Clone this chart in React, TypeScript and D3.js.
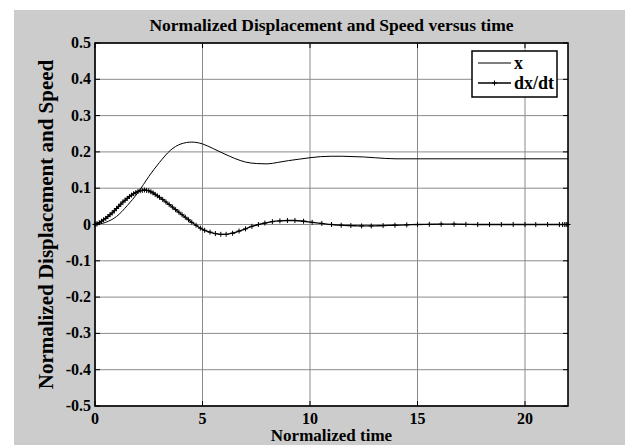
import React from "react";
import * as d3 from "d3";

// Displacement x
const xTimes = [0, 0.5, 1, 1.5, 2, 2.5, 3, 3.5, 4, 4.5, 5, 5.5, 6, 6.5, 7, 7.5, 8, 8.5, 9, 9.5, 10, 10.5, 11, 11.5, 12, 12.5, 13, 13.5, 14, 15, 16, 18, 20, 22];
const xValues = [0, 0.006, 0.022, 0.052, 0.088, 0.132, 0.171, 0.204, 0.222, 0.227, 0.222, 0.209, 0.195, 0.182, 0.172, 0.168, 0.167, 0.171, 0.176, 0.18, 0.184, 0.187, 0.188, 0.188, 0.187, 0.186, 0.184, 0.182, 0.181, 0.181, 0.181, 0.181, 0.181, 0.181];

// Speed dx/dt at solver steps (markers)
const vTimes = [0, 0.05, 0.1, 0.2, 0.3, 0.4, 0.5, 0.6, 0.7, 0.8, 0.9, 1.0, 1.1, 1.2, 1.3, 1.4, 1.5, 1.6, 1.7, 1.8, 1.9, 2.0, 2.1, 2.2, 2.3, 2.4, 2.5, 2.6, 2.7, 2.8, 2.9, 3.0, 3.15, 3.3, 3.45, 3.6, 3.75, 3.9, 4.05, 4.2, 4.35, 4.5, 4.7, 4.9, 5.1, 5.35, 5.6, 5.85, 6.1, 6.4, 6.7, 7.0, 7.3, 7.6, 7.9, 8.25, 8.6, 8.95, 9.3, 9.7, 10.1, 10.55, 11.0, 11.45, 11.9, 12.4, 12.85, 13.4, 13.95, 14.5, 15.0, 15.55, 16.1, 16.7, 17.25, 17.8, 18.35, 18.9, 19.45, 20.0, 20.5, 21.05, 21.6, 21.75, 21.85, 21.92, 22.0];
const vValues = [0, 0.001, 0.002, 0.005, 0.009, 0.013, 0.017, 0.022, 0.027, 0.032, 0.038, 0.044, 0.05, 0.056, 0.062, 0.067, 0.072, 0.077, 0.081, 0.085, 0.088, 0.091, 0.093, 0.094, 0.095, 0.094, 0.093, 0.09, 0.087, 0.083, 0.079, 0.075, 0.069, 0.062, 0.055, 0.048, 0.041, 0.034, 0.027, 0.02, 0.013, 0.006, -0.002, -0.01, -0.016, -0.021, -0.025, -0.027, -0.027, -0.024, -0.018, -0.012, -0.005, 0.0, 0.004, 0.008, 0.01, 0.011, 0.011, 0.009, 0.006, 0.003, 0.0, -0.002, -0.003, -0.004, -0.004, -0.003, -0.002, -0.001, 0.0, 0.0005, 0.001, 0.001, 0.0005, 0, 0, 0, 0, 0, 0, 0, 0, 0, 0, 0, 0];

const xTicks = [0, 5, 10, 15, 20];
const yTicks = [-0.5, -0.4, -0.3, -0.2, -0.1, 0, 0.1, 0.2, 0.3, 0.4, 0.5];
const yTickLabels = ["-0.5", "-0.4", "-0.3", "-0.2", "-0.1", "0", "0.1", "0.2", "0.3", "0.4", "0.5"];
const legendLabels = ["x", "dx/dt"];

const W = 625, H = 446;
const L = 95, R = 568, T = 43, B = 406;
const FONT = "'Liberation Serif', 'Times New Roman', serif";

export default function App() {
  const xs = d3.scaleLinear().domain([0, 22]).range([L, R]);
  const ys = d3.scaleLinear().domain([-0.5, 0.5]).range([B, T]);
  const xLine = d3.line<number>().x((_, i) => xs(xTimes[i])).y((d) => ys(d)).curve(d3.curveMonotoneX);
  const vLine = d3.line<number>().x((_, i) => xs(vTimes[i])).y((d) => ys(d)).curve(d3.curveMonotoneX);
  const tl = 5;
  const m = 2.5;
  return (
    <svg width={W} height={H} style={{ position: "absolute", left: 0, top: 0, background: "#fff" }} fontFamily={FONT}>
      <rect x={14} y={10} width={W - 14} height={H - 11} fill="#cccccc" />
      <rect x={L} y={T} width={R - L} height={B - T} fill="#fff" />
      {xTicks.map((t) => (
        <g key={"gx" + t}>
          <line x1={xs(t)} x2={xs(t)} y1={T} y2={B} stroke="#8a8a8a" strokeWidth={1} />
          <line x1={xs(t)} x2={xs(t)} y1={B} y2={B - tl} stroke="#000" />
          <line x1={xs(t)} x2={xs(t)} y1={T} y2={T + tl} stroke="#000" />
          <text x={xs(t)} y={424} textAnchor="middle" fontSize={16} fontWeight="bold">{t}</text>
        </g>
      ))}
      {yTicks.map((t, i) => (
        <g key={"gy" + t}>
          <line x1={L} x2={R} y1={ys(t)} y2={ys(t)} stroke="#8a8a8a" strokeWidth={1} />
          <line x1={L} x2={L + tl} y1={ys(t)} y2={ys(t)} stroke="#000" />
          <line x1={R} x2={R - tl} y1={ys(t)} y2={ys(t)} stroke="#000" />
          <text x={91} y={ys(t) + 5} textAnchor="end" fontSize={16} fontWeight="bold">{yTickLabels[i]}</text>
        </g>
      ))}
      <path d={xLine(xValues) || ""} fill="none" stroke="#000" strokeWidth={1} />
      <path d={vLine(vValues) || ""} fill="none" stroke="#000" strokeWidth={1.3} />
      {vValues.map((v, i) => (
        <path key={"m" + i} d={`M${xs(vTimes[i]) - m},${ys(v)}H${xs(vTimes[i]) + m}M${xs(vTimes[i])},${ys(v) - m}V${ys(v) + m}`} stroke="#000" strokeWidth={1} />
      ))}
      <rect x={L} y={T} width={R - L} height={B - T} fill="none" stroke="#000" strokeWidth={1.6} />
      <g>
        <rect x={472} y={51} width={85} height={46} fill="#fff" stroke="#000" strokeWidth={1.5} />
        <line x1={478} x2={511} y1={63} y2={63} stroke="#000" />
        <text x={514} y={69} fontSize={18} fontWeight="bold">{legendLabels[0]}</text>
        <line x1={478} x2={511} y1={83} y2={83} stroke="#000" strokeWidth={1.3} />
        <path d={`M${494.5 - m},83H${494.5 + m}M494.5,${83 - m}V${83 + m}`} stroke="#000" />
        <text x={514} y={89} fontSize={18} fontWeight="bold">{legendLabels[1]}</text>
      </g>
      <text x={(L + R) / 2} y={31} textAnchor="middle" fontSize={17.5} fontWeight="bold">Normalized Displacement and Speed versus time</text>
      <text x={(L + R) / 2} y={441} textAnchor="middle" fontSize={17} fontWeight="bold">Normalized time</text>
      <text transform={`translate(53,${(T + B) / 2}) rotate(-90)`} textAnchor="middle" fontSize={21} fontWeight="bold">Normalized Displacement and Speed</text>
    </svg>
  );
}
